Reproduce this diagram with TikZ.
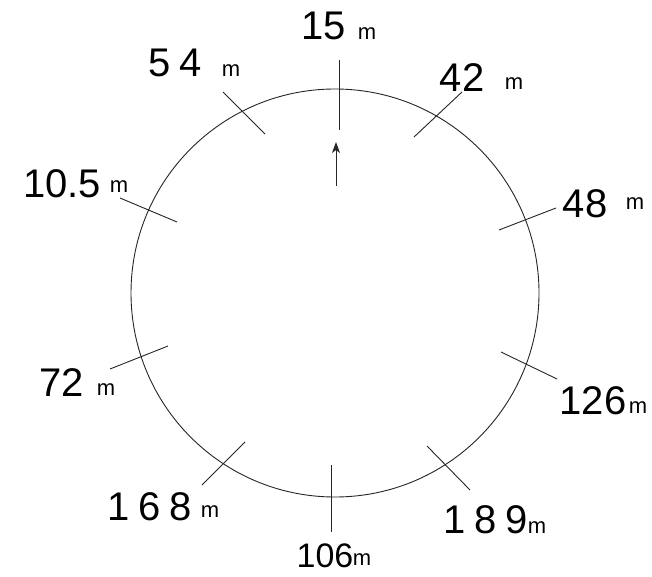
\documentclass[tikz,border=0pt]{standalone}
\usepackage{fontspec}
\setmainfont{Liberation Sans}
\usetikzlibrary{arrows.meta}
\begin{document}
\begin{tikzpicture}[x=1pt,y=-1pt,
  line/.style={line width=0.9pt,black!85},
  num/.style={anchor=base,inner sep=0pt,font=\fontsize{40}{40}\selectfont},
  widenum/.style={anchor=base,inner sep=0pt,font=\fontsize{40}{40}\selectfont\addfontfeature{LetterSpace=22}},
  smallnum/.style={anchor=base,inner sep=0pt,font=\fontsize{34}{34}\selectfont},
  unit/.style={anchor=base,inner sep=0pt,font=\fontsize{22}{22}\selectfont}]
\useasboundingbox (0,0) rectangle (652,577);
\fill[white] (0,0) rectangle (652,577);
% circle
\coordinate (c) at (335,293);
\draw[line] (c) circle[radius=204];
% ticks
\coordinate (t15a) at (339,60);  \coordinate (t15b) at (339,130);
\coordinate (t42a) at (462,92);  \coordinate (t42b) at (414,137);
\coordinate (t48a) at (556,208); \coordinate (t48b) at (499,230);
\coordinate (t126a) at (501,352); \coordinate (t126b) at (557,379);
\coordinate (t189a) at (427,446); \coordinate (t189b) at (470,490);
\coordinate (t106a) at (331,465); \coordinate (t106b) at (331,532);
\coordinate (t168a) at (245,442); \coordinate (t168b) at (202,485);
\coordinate (t72a) at (168,346); \coordinate (t72b) at (110,369);
\coordinate (t105a) at (120,198); \coordinate (t105b) at (177,222);
\coordinate (t54a) at (223,92); \coordinate (t54b) at (265,134);
\foreach \t in {15,42,48,126,189,106,168,72,105,54}
  \draw[line] (t\t a) -- (t\t b);
% arrow
\coordinate (arrs) at (336,186);
\coordinate (arre) at (336,142);
\draw[line,-{Stealth[length=11pt,width=8pt,inset=3pt]}] (arrs) -- (arre);
% labels
\node[num] (n15) at (324,40) {15};   \node[unit] (m15) at (367,40) {m};
\node[widenum] (n54) at (175,77) {54};   \node[unit] (m54) at (231,77) {m};
\node[num] (n42) at (462,92) {42};   \node[unit] (m42) at (514,90) {m};
\node[num] (n105) at (62,197) {10.5}; \node[unit] (m105) at (119,193) {m};
\node[num] (n48) at (585,218) {48};  \node[unit] (m48) at (635,210) {m};
\node[num] (n72) at (62,396) {72};   \node[unit] (m72) at (106,395) {m};
\node[num] (n126) at (593,414) {126}; \node[unit] (m126) at (638,413) {m};
\node[widenum] (n168) at (150,520) {168}; \node[unit] (m168) at (210,517) {m};
\node[widenum] (n189) at (486,533) {189}; \node[unit] (m189) at (537,533) {m};
\node[smallnum] (n106) at (325,567) {106}; \node[unit] (m106) at (362,565) {m};
\end{tikzpicture}
\end{document}
